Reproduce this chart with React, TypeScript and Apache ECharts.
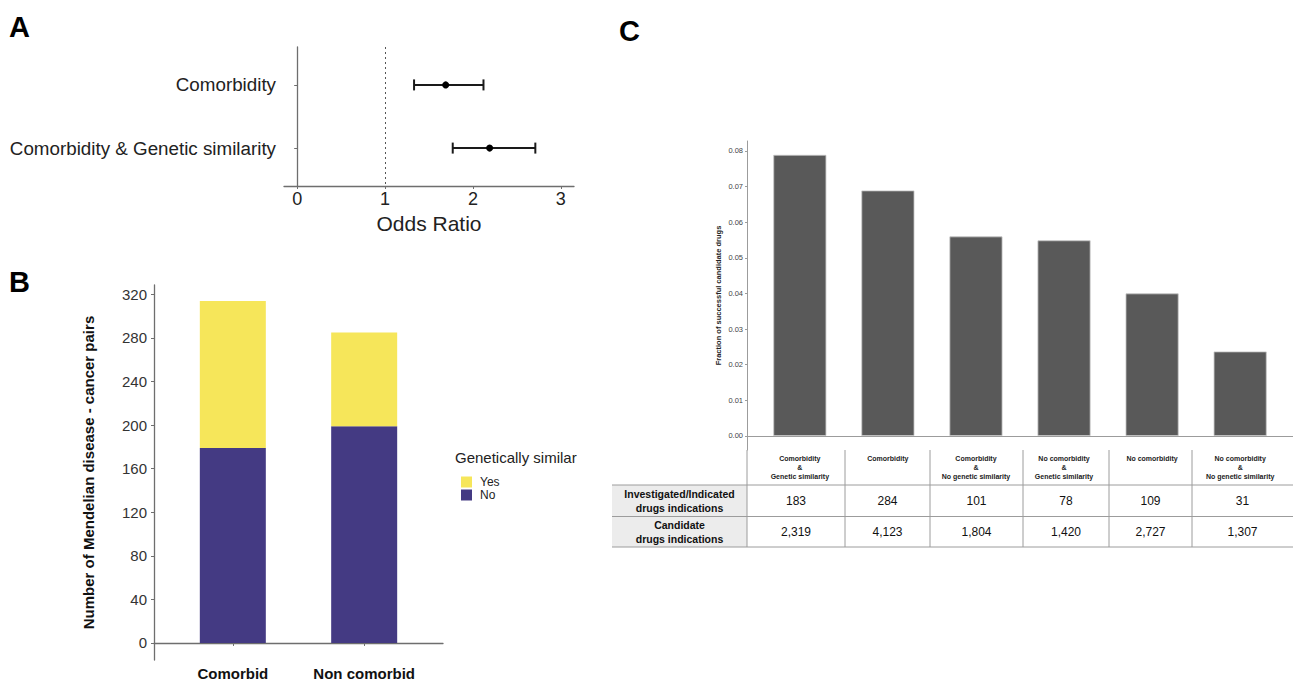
import React, { useEffect, useRef } from "react";
import * as echarts from "echarts";

// ---------- Panel A data ----------
const aLabels = ["Comorbidity", "Comorbidity & Genetic similarity"];
const aOddsRatio = [1.69, 2.19];
const aLower = [1.33, 1.77];
const aUpper = [2.12, 2.71];
const aTicks = [0, 1, 2, 3];

// ---------- Panel B data ----------
const bCategories = ["Comorbid", "Non comorbid"];
const bNo = [179, 199];
const bYes = [135, 86];
const bTicks = [0, 40, 80, 120, 160, 200, 240, 280, 320];

// ---------- Panel C data ----------
const cCategories = [
  "Comorbidity\n&\nGenetic similarity",
  "Comorbidity",
  "Comorbidity\n&\nNo genetic similarity",
  "No comorbidity\n&\nGenetic similarity",
  "No comorbidity",
  "No comorbidity\n&\nNo genetic similarity",
];
const cFraction = [0.0789, 0.0689, 0.056, 0.0549, 0.04, 0.0237];
const cTicks = [0, 0.01, 0.02, 0.03, 0.04, 0.05, 0.06, 0.07, 0.08];
const tableRowHeaders = ["Investigated/Indicated\ndrugs indications", "Candidate\ndrugs indications"];
const tableInvestigated = [183, 284, 101, 78, 109, 31];
const tableCandidate = [2319, 4123, 1804, 1420, 2727, 1307];

const FONT = "'Liberation Sans', Arial, Helvetica, sans-serif";
const fmt = (n: number) => String(n).replace(/\B(?=(\d{3})+(?!\d))/g, ",");

export default function App() {
  const ref = useRef<HTMLDivElement>(null);

  useEffect(() => {
    if (!ref.current) return;
    const chart = echarts.init(ref.current, null, { renderer: "svg" });

    // table layout (pixels)
    const colEdges = [747, 845, 930, 1023, 1109, 1192, 1293];
    const tableTop = 450;
    const rowLines = [485, 516.5, 547];
    const lineColor = "#9c9c9c";
    const graphics: any[] = [];
    graphics.push({ type: "text", left: 9, top: 12, style: { text: "A", font: `bold 29px ${FONT}`, fill: "#000" } });
    graphics.push({ type: "text", left: 9, top: 267, style: { text: "B", font: `bold 29px ${FONT}`, fill: "#000" } });
    graphics.push({ type: "text", left: 619, top: 16, style: { text: "C", font: `bold 29px ${FONT}`, fill: "#000" } });
    graphics.push({ type: "text", left: 455, top: 450, style: { text: "Genetically similar", font: `15px ${FONT}`, fill: "#222" } });

    graphics.push({ type: "rect", shape: { x: 612, y: rowLines[0], width: colEdges[0] - 612, height: rowLines[2] - rowLines[0] }, style: { fill: "#ececec" }, z: 0 });
    rowLines.forEach((y) =>
      graphics.push({ type: "line", shape: { x1: 612, y1: y, x2: 1293, y2: y }, style: { stroke: lineColor, lineWidth: 1 } })
    );
    colEdges.slice(0, 6).forEach((x) =>
      graphics.push({ type: "line", shape: { x1: x, y1: tableTop, x2: x, y2: rowLines[2] }, style: { stroke: lineColor, lineWidth: 1 } })
    );
    const rowCenters = [(rowLines[0] + rowLines[1]) / 2, (rowLines[1] + rowLines[2]) / 2];
    tableRowHeaders.forEach((t, i) =>
      graphics.push({
        type: "text",
        x: (612 + colEdges[0]) / 2,
        y: rowCenters[i],
        style: { text: t, font: `bold 10.5px ${FONT}`, fill: "#111", align: "center", verticalAlign: "middle", lineHeight: 14 },
      })
    );
    [tableInvestigated, tableCandidate].forEach((row, r) =>
      row.forEach((v, i) =>
        graphics.push({
          type: "text",
          x: (colEdges[i] + colEdges[i + 1]) / 2,
          y: rowCenters[r],
          style: { text: fmt(v), font: `12px ${FONT}`, fill: "#111", align: "center", verticalAlign: "middle" },
        })
      )
    );

    const axisGray = "#6e6e6e";

    const option: any = {
      animation: false,
      textStyle: { fontFamily: FONT },
      graphic: graphics,
      legend: {
        data: ["Yes", "No"],
        orient: "vertical",
        left: 456,
        top: 471,
        itemWidth: 11,
        itemHeight: 11,
        itemGap: 1,
        icon: "rect",
        textStyle: { fontSize: 12, color: "#222", padding: [0, 0, 0, 3] },
        selectedMode: false,
      },
      grid: [
        { left: 284, top: 47, width: 290, height: 139 },
        { left: 154, top: 285, width: 289, height: 375 },
        { left: 747, top: 141, width: 547, height: 309 },
      ],
      xAxis: [
        {
          gridIndex: 0,
          type: "value",
          min: -0.15,
          max: 3.15,
          splitLine: { show: false },
          axisLine: { show: true, lineStyle: { color: axisGray, width: 1.3 } },
          axisTick: { show: true, length: 3, customValues: aTicks, lineStyle: { color: axisGray } },
          axisLabel: { customValues: aTicks, fontSize: 18, color: "#222", margin: 4, formatter: (v: number) => String(v) },
          name: "Odds Ratio",
          nameLocation: "middle",
          nameGap: 27,
          nameTextStyle: { fontSize: 21, color: "#222" },
        },
        {
          gridIndex: 1,
          type: "value",
          min: 0.4,
          max: 2.6,
          splitLine: { show: false },
          axisLine: { show: true, lineStyle: { color: axisGray, width: 1.3 } },
          axisTick: { show: true, length: 3, customValues: [1, 2], lineStyle: { color: axisGray } },
          axisLabel: {
            customValues: [1, 2],
            fontSize: 15,
            fontWeight: "bold",
            color: "#111",
            margin: 6,
            formatter: (v: number) => bCategories[Math.round(v) - 1] ?? "",
          },
        },
        {
          gridIndex: 2,
          type: "value",
          min: 0.4,
          max: 6.6,
          splitLine: { show: false },
          axisLine: { show: true, lineStyle: { color: lineColor, width: 1 } },
          axisTick: { show: false },
          axisLabel: {
            customValues: [1, 2, 3, 4, 5, 6],
            fontSize: 7,
            fontWeight: "bold",
            color: "#222",
            lineHeight: 9,
            margin: 4,
            formatter: (v: number) => cCategories[Math.round(v) - 1] ?? "",
          },
        },
      ],
      yAxis: [
        {
          gridIndex: 0,
          type: "value",
          min: 0.4,
          max: 2.6,
          inverse: true,
          splitLine: { show: false },
          axisLine: { show: true, lineStyle: { color: axisGray, width: 1.3 } },
          axisTick: { show: true, length: 3, customValues: [1, 2], lineStyle: { color: axisGray } },
          axisLabel: {
            customValues: [1, 2],
            fontSize: 18.8,
            color: "#222",
            margin: 8,
            formatter: (v: number) => aLabels[Math.round(v) - 1] ?? "",
          },
        },
        {
          gridIndex: 1,
          type: "value",
          min: -15.65,
          max: 328.65,
          splitLine: { show: false },
          axisLine: { show: true, lineStyle: { color: axisGray, width: 1.3 } },
          axisTick: { show: true, length: 3, customValues: bTicks, lineStyle: { color: axisGray } },
          axisLabel: { customValues: bTicks, fontSize: 15, color: "#333", margin: 7, formatter: (v: number) => String(v) },
          name: "Number of Mendelian disease - cancer pairs",
          nameLocation: "middle",
          nameRotate: 90,
          nameGap: 58,
          nameTextStyle: { fontSize: 15, fontWeight: "bold", color: "#111" },
        },
        {
          gridIndex: 2,
          type: "value",
          min: -0.00395,
          max: 0.0828,
          splitLine: { show: false },
          axisLine: { show: true, lineStyle: { color: lineColor, width: 1 } },
          axisTick: { show: true, length: 2, customValues: cTicks, lineStyle: { color: lineColor } },
          axisLabel: { customValues: cTicks, fontSize: 7.5, color: "#444", margin: 4, formatter: (v: number) => v.toFixed(2) },
          name: "Fraction of successful candidate drugs",
          nameLocation: "middle",
          nameRotate: 90,
          nameGap: 25,
          nameTextStyle: { fontSize: 7.5, fontWeight: "bold", color: "#222" },
        },
      ],
      series: [
        {
          type: "custom",
          xAxisIndex: 0,
          yAxisIndex: 0,
          encode: { x: [0, 1, 2], y: 3 },
          data: aOddsRatio.map((v, i) => [v, aLower[i], aUpper[i], i + 1]),
          renderItem: (params: any, api: any) => {
            const row = api.value(3);
            const p = api.coord([api.value(0), row]);
            const lo = api.coord([api.value(1), row]);
            const hi = api.coord([api.value(2), row]);
            const cap = 5.5;
            const st = { stroke: "#1a1a1a", lineWidth: 2 };
            return {
              type: "group",
              children: [
                { type: "line", shape: { x1: lo[0], y1: lo[1], x2: hi[0], y2: hi[1] }, style: st },
                { type: "line", shape: { x1: lo[0], y1: lo[1] - cap, x2: lo[0], y2: lo[1] + cap }, style: st },
                { type: "line", shape: { x1: hi[0], y1: hi[1] - cap, x2: hi[0], y2: hi[1] + cap }, style: st },
                { type: "circle", shape: { cx: p[0], cy: p[1], r: 3.5 }, style: { fill: "#000" } },
              ],
            };
          },
          markLine: {
            silent: true,
            symbol: "none",
            label: { show: false },
            lineStyle: { type: [2, 3], color: "#555", width: 1 },
            data: [{ xAxis: 1 }],
          },
        },
        {
          name: "No",
          type: "bar",
          xAxisIndex: 1,
          yAxisIndex: 1,
          stack: "b",
          barWidth: 66,
          encode: { x: 1, y: 0 },
          itemStyle: { color: "#443A83" },
          data: bNo.map((v, i) => [v, i + 1]),
        },
        {
          name: "Yes",
          type: "bar",
          xAxisIndex: 1,
          yAxisIndex: 1,
          stack: "b",
          barWidth: 66,
          encode: { x: 1, y: 0 },
          itemStyle: { color: "#F6E65A" },
          data: bYes.map((v, i) => [v, i + 1]),
        },
        {
          type: "bar",
          xAxisIndex: 2,
          yAxisIndex: 2,
          barWidth: 53,
          itemStyle: { color: "#595959", borderColor: "#c4c4c4", borderWidth: 0.8 },
          data: cFraction.map((v, i) => [i + 1, v]),
        },
      ],
    };

    chart.setOption(option);
    return () => chart.dispose();
  }, []);

  return (
    <div
      ref={ref}
      style={{ position: "absolute", left: 0, top: 0, width: 1293, height: 683, background: "#fff" }}
    />
  );
}
